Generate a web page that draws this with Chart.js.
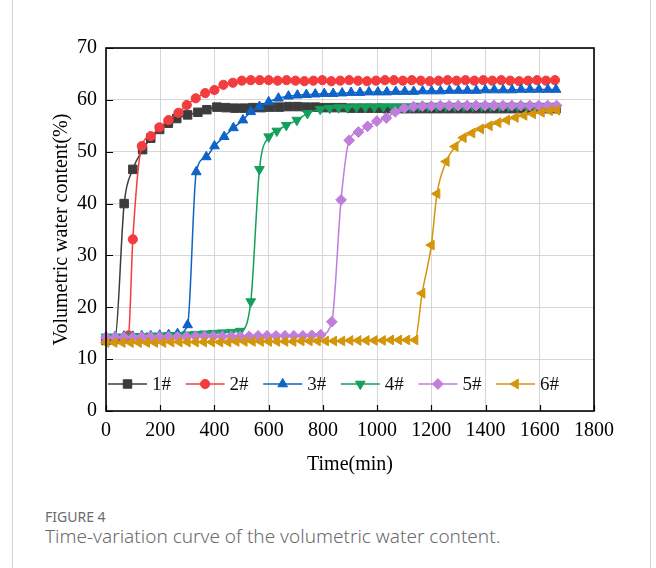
<!DOCTYPE html>
<html>
<head>
<meta charset="utf-8">
<script src="https://cdn.jsdelivr.net/npm/chart.js@4.4.1/dist/chart.umd.min.js"></script>
<style>
  html, body { margin: 0; padding: 0; background: #fff; }
  body { width: 656px; height: 568px; position: relative; overflow: hidden; }
  .frame { position: absolute; left: 12px; top: -2px; width: 637px; height: 572px;
           border-left: 1px solid #d4d4d4; border-right: 1px solid #d4d4d4; }
  #wrap { position: absolute; left: 0; top: 0; width: 656px; height: 500px; }
  .cap { position: absolute; left: 45px; font-family: "Noto Sans", "Open Sans", sans-serif;
         color: #6b6b6b; line-height: 1; white-space: nowrap; }
  .cap1 { top: 510px; font-size: 14px; }
  .cap2 { top: 527px; font-size: 19px; font-weight: 300; }
</style>
</head>
<body>
<div class="frame"></div>
<div id="wrap"><canvas id="c" width="656" height="500"></canvas></div>
<div class="cap cap1">FIGURE 4</div>
<div class="cap cap2">Time-variation curve of the volumetric water content.</div>

<script>
// Measurement times (min) and volumetric water content (%) for each probe
const seriesNames = ['1#', '2#', '3#', '4#', '5#', '6#'];

const t1 = [0, 33, 67, 99, 135, 165, 198, 230, 261, 301, 339, 372, 409, 442, 475, 508, 541, 574, 607, 640,
            673, 706, 739, 772, 805, 838, 871, 904, 937, 970, 1003, 1036, 1069, 1102, 1135, 1168, 1201, 1234,
            1267, 1300, 1333, 1366, 1399, 1432, 1465, 1498, 1531, 1564, 1597, 1630, 1660];
const v1 = [13.6, 13.8, 40.0, 46.6, 50.4, 52.6, 54.3, 55.5, 56.4, 57.1, 57.6, 58.1, 58.6,
            58.5, 58.4, 58.4, 58.5, 58.5, 58.6, 58.6, 58.7, 58.7, 58.6, 58.6, 58.5, 58.5, 58.5, 58.4,
            58.4, 58.4, 58.4, 58.3, 58.3, 58.3, 58.3, 58.3, 58.3, 58.3, 58.3, 58.3, 58.3, 58.3, 58.3,
            58.3, 58.3, 58.3, 58.3, 58.3, 58.3, 58.3, 58.3];

const t2 = [0, 33, 66, 83, 99, 132, 165, 197, 231, 267, 298, 331, 366, 400, 433, 468, 501, 534, 567, 600,
            633, 666, 699, 732, 765, 798, 831, 864, 897, 930, 963, 996, 1029, 1062, 1095, 1128, 1161, 1194,
            1227, 1260, 1293, 1326, 1359, 1392, 1425, 1458, 1491, 1524, 1557, 1590, 1623, 1656];
const v2 = [13.8, 13.9, 14.0, 14.6, 33.1, 51.1, 53.0, 54.7, 56.1, 57.5, 59.0, 60.3, 61.3, 61.9, 62.9,
            63.3, 63.7, 63.8, 63.8, 63.8, 63.7, 63.8, 63.7, 63.6, 63.7, 63.8, 63.6, 63.7, 63.8, 63.7,
            63.6, 63.7, 63.8, 63.8, 63.7, 63.8, 63.7, 63.6, 63.7, 63.8, 63.7, 63.8, 63.7, 63.8, 63.7,
            63.8, 63.7, 63.6, 63.7, 63.8, 63.7, 63.8];

const t3 = [0, 33, 66, 99, 132, 165, 198, 231, 264, 301, 333, 370, 400, 436, 470, 505, 534, 566, 600, 636,
            673, 706, 739, 772, 805, 838, 871, 904, 937, 970, 1003, 1036, 1069, 1102, 1135, 1168, 1201,
            1234, 1267, 1300, 1333, 1366, 1399, 1432, 1465, 1498, 1531, 1564, 1597, 1630, 1660];
const v3 = [14.3, 14.3, 14.4, 14.4, 14.5, 14.5, 14.6, 14.7, 14.9, 16.6, 46.1, 49.0, 51.1, 52.9, 54.6,
            56.1, 57.7, 58.7, 59.6, 60.3, 60.7, 60.9, 61.0, 61.1, 61.2, 61.2, 61.3, 61.4, 61.4, 61.5,
            61.5, 61.5, 61.6, 61.6, 61.6, 61.7, 61.7, 61.7, 61.8, 61.8, 61.8, 61.8, 61.9, 61.9, 61.9,
            61.9, 62.0, 62.0, 62.0, 62.0, 62.0];

const t4 = [0, 33, 66, 99, 132, 165, 198, 231, 264, 297, 330, 363, 396, 429, 462, 495, 534, 566, 600, 630,
            665, 704, 743, 790, 825, 858, 891, 924, 957, 990, 1023, 1056, 1089, 1122, 1155, 1188, 1221,
            1254, 1287, 1320, 1353, 1386, 1419, 1452, 1485, 1518, 1551, 1584, 1617, 1650];
const v4 = [14.3, 14.3, 14.3, 14.4, 14.4, 14.5, 14.5, 14.6, 14.6, 14.7, 14.8, 14.9, 15.0, 15.1, 15.2,
            15.4, 21.1, 46.6, 52.9, 54.0, 55.1, 56.1, 57.4, 58.2, 58.4, 58.5, 58.5, 58.6, 58.6, 58.6,
            58.7, 58.7, 58.7, 58.7, 58.8, 58.8, 58.8, 58.8, 58.8, 58.8, 58.8, 58.8, 58.8, 58.8, 58.8,
            58.8, 58.8, 58.8, 58.8, 58.8];

const t5 = [0, 33, 66, 99, 132, 165, 198, 231, 264, 297, 330, 363, 396, 429, 462, 495, 528, 561, 594, 627,
            660, 693, 726, 759, 792, 833, 867, 897, 931, 965, 999, 1034, 1067, 1100, 1134, 1167, 1200,
            1233, 1266, 1299, 1332, 1365, 1398, 1431, 1464, 1497, 1530, 1563, 1596, 1629, 1662];
const v5 = [14.2, 14.2, 14.2, 14.2, 14.3, 14.3, 14.3, 14.3, 14.3, 14.3, 14.4, 14.4, 14.4, 14.4, 14.4,
            14.4, 14.4, 14.5, 14.5, 14.5, 14.5, 14.5, 14.5, 14.6, 14.7, 17.2, 40.7, 52.2, 53.8, 54.9,
            55.9, 56.5, 57.7, 58.4, 58.7, 58.8, 58.8, 58.9, 58.9, 58.9, 58.9, 58.9, 58.9, 58.9, 58.9,
            58.9, 58.9, 58.9, 58.9, 58.9, 58.9];

const t6 = [0, 30, 60, 90, 120, 150, 180, 210, 240, 270, 300, 330, 360, 390, 420, 450, 480, 510, 540, 570,
            600, 630, 660, 690, 720, 750, 780, 810, 840, 870, 900, 930, 960, 990, 1020, 1050, 1080, 1110,
            1140, 1166, 1200, 1221, 1255, 1288, 1318, 1350, 1382, 1414, 1446, 1478, 1510, 1542, 1574,
            1606, 1636, 1663];
const v6 = [13.2, 13.2, 13.2, 13.2, 13.2, 13.2, 13.2, 13.2, 13.3, 13.3, 13.3, 13.3, 13.3, 13.3, 13.3,
            13.3, 13.4, 13.4, 13.4, 13.4, 13.4, 13.4, 13.4, 13.4, 13.5, 13.5, 13.5, 13.5, 13.5, 13.5,
            13.6, 13.6, 13.6, 13.6, 13.6, 13.7, 13.7, 13.7, 13.7, 22.7, 32.0, 41.9, 48.1, 51.0, 52.7,
            53.6, 54.4, 55.0, 55.6, 56.1, 56.6, 57.0, 57.3, 57.6, 57.9, 58.0];

const xTickValues = [0, 200, 400, 600, 800, 1000, 1200, 1400, 1600, 1800];
const yTickValues = [0, 10, 20, 30, 40, 50, 60, 70];

// Drawing styles for each probe
const colors = ['#3c3c3c', '#f43b3e', '#0e63c8', '#13a05c', '#c07ddc', '#d4950b'];
const markers = ['rect', 'circle', 'triangle', 'triangle', 'rectRot', 'triangle'];
const rotations = [0, 0, 0, 180, 0, -90];
const radii = [6, 4.6, 5.6, 5.6, 5.4, 5.6];

const times = [t1, t2, t3, t4, t5, t6];
const values = [v1, v2, v3, v4, v5, v6];

const datasets = seriesNames.map((name, i) => ({
  label: name,
  data: times[i].map((t, k) => ({ x: t, y: values[i][k] })),
  borderColor: colors[i],
  backgroundColor: colors[i],
  pointBackgroundColor: colors[i],
  pointBorderColor: colors[i],
  pointBorderWidth: 1,
  pointStyle: markers[i],
  pointRotation: rotations[i],
  pointRadius: radii[i],
  borderWidth: 1.5,
  cubicInterpolationMode: 'monotone',
  clip: false,
  order: seriesNames.length - 1 - i
}));

const serif = 'Liberation Serif, "Times New Roman", serif';

// Marker used by the in-plot legend
function drawMarker(ctx, style, rot, r, x, y, color) {
  ctx.save();
  ctx.translate(x, y);
  ctx.rotate(rot * Math.PI / 180);
  ctx.fillStyle = color;
  ctx.strokeStyle = color;
  ctx.lineWidth = 1;
  ctx.beginPath();
  if (style === 'circle') {
    ctx.arc(0, 0, r, 0, Math.PI * 2);
  } else if (style === 'rect') {
    const s = r * Math.SQRT1_2;
    ctx.rect(-s, -s, 2 * s, 2 * s);
  } else if (style === 'rectRot') {
    ctx.moveTo(0, -r); ctx.lineTo(r, 0); ctx.lineTo(0, r); ctx.lineTo(-r, 0); ctx.closePath();
  } else {
    for (let k = 0; k < 3; k++) {
      const a = k * 2 * Math.PI / 3;
      const px = Math.sin(a) * r, py = -Math.cos(a) * r;
      if (k === 0) ctx.moveTo(px, py); else ctx.lineTo(px, py);
    }
    ctx.closePath();
  }
  ctx.fill();
  ctx.stroke();
  ctx.restore();
}

// Plot frame, inward ticks and the legend row inside the plot
const framePlugin = {
  id: 'frameAndLegend',
  afterDatasetsDraw(chart) {
    const { ctx, chartArea: a, scales: { x, y } } = chart;
    ctx.save();
    ctx.strokeStyle = '#000';
    ctx.lineWidth = 1.2;
    ctx.beginPath();
    xTickValues.forEach(v => {
      const px = Math.round(x.getPixelForValue(v)) + 0.5;
      ctx.moveTo(px, a.bottom); ctx.lineTo(px, a.bottom - 6);
    });
    yTickValues.forEach(v => {
      const py = Math.round(y.getPixelForValue(v)) + 0.5;
      ctx.moveTo(a.left, py); ctx.lineTo(a.left + 7, py);
    });
    ctx.stroke();
    ctx.lineWidth = 1.6;
    ctx.strokeRect(a.left, a.top, a.right - a.left, a.bottom - a.top);

    // legend
    const ly = a.bottom - 27;
    const lineLen = 39;
    const step = 77.6;
    ctx.font = '19px ' + serif;
    ctx.textBaseline = 'middle';
    ctx.textAlign = 'left';
    seriesNames.forEach((name, i) => {
      const x0 = a.left + 2 + i * step;
      ctx.strokeStyle = colors[i];
      ctx.lineWidth = 1.5;
      ctx.beginPath();
      ctx.moveTo(x0, ly); ctx.lineTo(x0 + lineLen, ly);
      ctx.stroke();
      drawMarker(ctx, markers[i], rotations[i], radii[i], x0 + lineLen / 2, ly, colors[i]);
      ctx.fillStyle = '#111';
      ctx.fillText(name, x0 + lineLen + 5, ly + 1);
    });
    ctx.restore();
  }
};

new Chart(document.getElementById('c'), {
  type: 'line',
  data: { datasets },
  options: {
    responsive: false,
    animation: false,
    layout: { padding: { top: 48, right: 62, left: 0, bottom: 0 } },
    plugins: { legend: { display: false }, tooltip: { enabled: false } },
    elements: { line: { tension: 0.4 } },
    scales: {
      x: {
        type: 'linear', min: 0, max: 1800,
        afterBuildTicks(s) { s.ticks = xTickValues.map(v => ({ value: v })); },
        ticks: { color: '#000', font: { family: serif, size: 20 }, padding: 8, maxRotation: 0,
                 autoSkip: false, callback: v => String(v) },
        grid: { color: '#d6d6d6', lineWidth: 1, drawTicks: false },
        border: { display: false },
        title: { display: true, text: 'Time(min)', color: '#000',
                 font: { family: serif, size: 20 }, padding: { top: 0, bottom: 23 } },
        afterFit(s) { s.height = 89; }
      },
      y: {
        type: 'linear', min: 0, max: 70,
        afterBuildTicks(s) { s.ticks = yTickValues.map(v => ({ value: v })); },
        ticks: { color: '#000', font: { family: serif, size: 20 }, padding: 9, callback: v => String(v) },
        grid: { color: '#d6d6d6', lineWidth: 1, drawTicks: false },
        border: { display: false },
        title: { display: true, text: 'Volumetric water content(%)', color: '#000',
                 font: { family: serif, size: 20 }, padding: { top: 50, bottom: 0 } },
        afterFit(s) { s.width = 106; }
      }
    }
  },
  plugins: [framePlugin]
});
</script>
</body>
</html>
